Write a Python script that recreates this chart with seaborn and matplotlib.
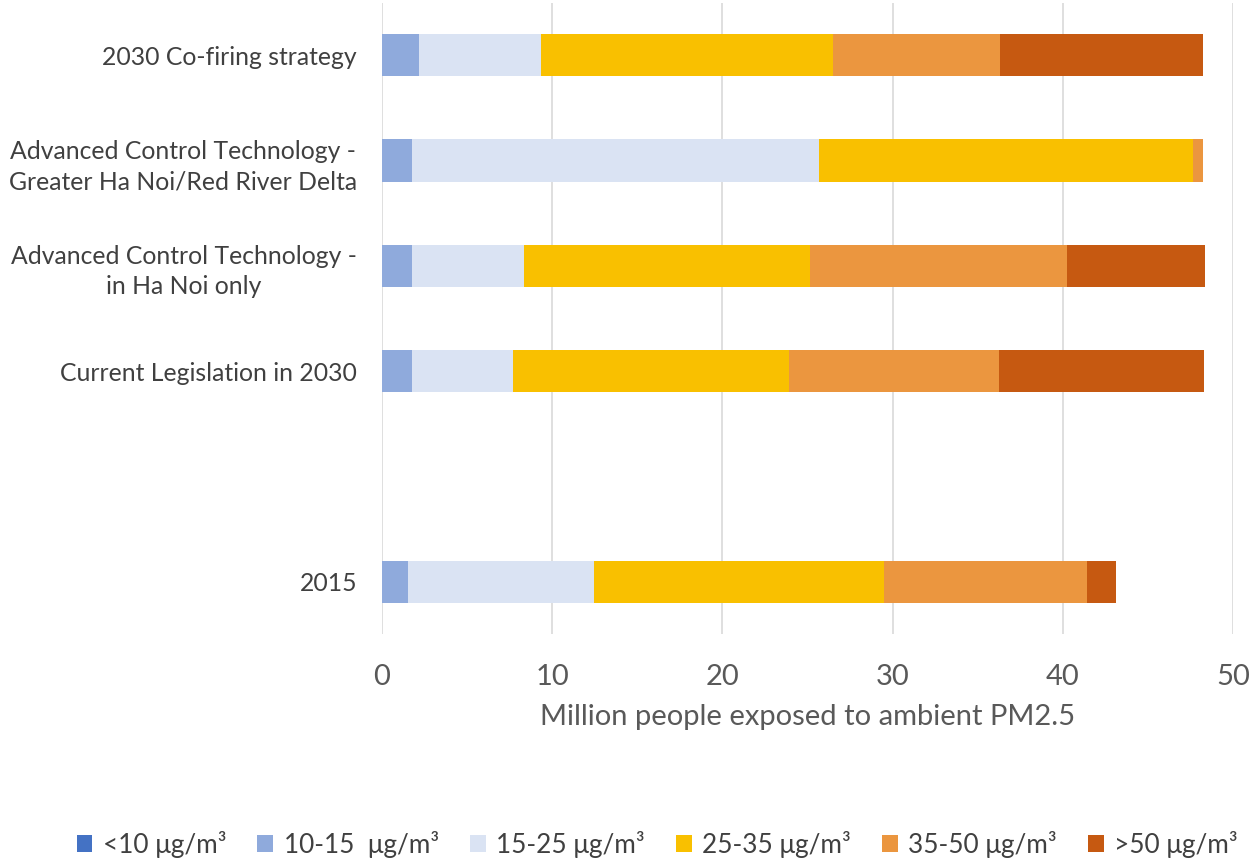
import matplotlib
matplotlib.use("Agg")
import matplotlib.pyplot as plt
import seaborn as sns
import pandas as pd
import numpy as np
from matplotlib.patches import Patch

# ---- data ----
scenarios = [
    "2030 Co-firing strategy",
    "Advanced Control Technology -\nGreater Ha Noi/Red River Delta",
    "Advanced Control Technology -\nin Ha Noi only",
    "Current Legislation in 2030",
    " ",
    "2015",
]
bins = ["<10 μg/m³", "10-15  μg/m³", "15-25 μg/m³", "25-35 μg/m³", "35-50 μg/m³", ">50 μg/m³"]
lt10 = [0.0, 0.0, 0.0, 0.0, None, 0.0]
b10_15 = [2.18, 1.78, 1.78, 1.78, None, 1.55]
b15_25 = [7.15, 23.88, 6.56, 5.94, None, 10.92]
b25_35 = [17.19, 22.0, 16.79, 16.19, None, 17.02]
b35_50 = [9.79, 0.56, 15.14, 12.37, None, 11.93]
gt50 = [11.91, 0.0, 8.08, 12.0, None, 1.72]
colors = ["#4472C4", "#8FAADC", "#DAE3F3", "#F9C000", "#EB963F", "#C65911"]

series = [lt10, b10_15, b15_25, b25_35, b35_50, gt50]

rows = []
for i, sc in enumerate(scenarios):
    if series[0][i] is None:
        continue
    cum = 0.0
    for b, s in zip(bins, series):
        cum += s[i]
        rows.append({"scenario": sc, "bin": b, "cum": cum})
df = pd.DataFrame(rows)

sns.set_theme(style="white")
plt.rcParams["font.family"] = ["Lato", "DejaVu Sans"]

fig = plt.figure(figsize=(12.52, 8.59), dpi=100)
ax = fig.add_axes([0.3051, 0.2614, 0.6797, 0.7356])

for b, c in reversed(list(zip(bins, colors))):
    sub = df[df["bin"] == b]
    sns.barplot(data=sub, x="cum", y="scenario", order=scenarios, color=c,
                width=0.4, saturation=1, ax=ax, orient="h", linewidth=0)

ax.set_xlim(0, 50)
ax.set_ylim(len(scenarios) - 0.5, -0.5)
ax.set_xticks([0, 10, 20, 30, 40, 50])
ax.grid(axis="x", color="#D9D9D9", linewidth=1.2)
ax.set_axisbelow(True)
for sp in ax.spines.values():
    sp.set_visible(False)
ax.tick_params(axis="y", length=0, pad=18, labelsize=17.8, labelcolor="#404040")
ax.tick_params(axis="x", length=0, pad=21, labelsize=21, labelcolor="#595959")
for lab in ax.get_yticklabels():
    lab.set_horizontalalignment("right")
    lab.set_multialignment("center")
    lab.set_linespacing(1.4)
ax.set_ylabel("")
ax.set_xlabel("Million people exposed to ambient PM2.5", fontsize=21,
              color="#595959", labelpad=10)

handles = [Patch(facecolor=c, edgecolor="none") for c in colors]
fig.legend(handles, bins, loc="center", bbox_to_anchor=(0.525, 0.017), ncol=6,
           frameon=False, fontsize=18.8, handlelength=0.6, handleheight=0.6,
           handletextpad=0.4, columnspacing=1.2, labelcolor="#404040")

fig.savefig("out.png", dpi=100)
